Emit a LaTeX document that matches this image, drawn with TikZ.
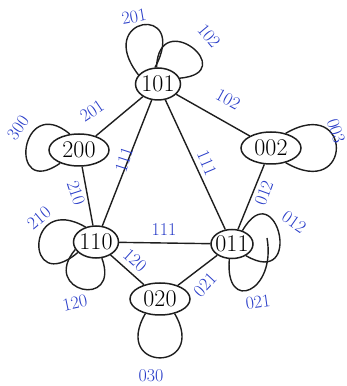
\documentclass[tikz,border=0pt]{standalone}
\usepackage{tikz}
\usetikzlibrary{shapes.geometric}
\definecolor{inkblue}{RGB}{40,60,200}
\definecolor{inkblack}{RGB}{30,30,30}
\tikzset{
  state/.style={ellipse, draw=inkblack, line width=1.5pt, inner xsep=-3pt, inner ysep=0pt,
    minimum width=45pt, minimum height=32pt, font=\fontsize{24}{28}\selectfont},
  widestate/.style={state, minimum width=60pt},
  lbl/.style={text=inkblue, font=\fontsize{18}{20}\selectfont, inner sep=0pt},
  link/.style={draw=inkblack, line width=1.4pt}
}

\begin{document}
\begin{tikzpicture}[x=1pt,y=1pt]
\useasboundingbox (0,0) rectangle (347,386);

\node[state] (S101) at (158,302) {101};
\node[widestate] (S200) at (79,236) {200};
\node[widestate] (S002) at (271,238) {002};
\node[state] (S110) at (96,144) {110};
\node[state, minimum width=42pt, minimum height=29pt] (S011) at (232,142) {011};
\node[widestate] (S020) at (160,87) {020};
\coordinate (h011) at (267,148);

% edges
\path[link] (S200) edge [] (S101);
\path[link] (S101) edge [] (S002);
\path[link] (S110) edge [] (S101);
\path[link] (S101) edge [] (S011);
\path[link] (S200) edge [] (S110);
\path[link] (S011) edge [] (S002);
\path[link] (S110) edge [] (S011);
\path[link] (S110) edge [] (S020);
\path[link] (S020) edge [] (S011);

% loops
\path[link] (S101.155) edge [out=128, in=62, min distance=74pt] (S101.100);
\path[link] (S101.95) edge [out=88, in=5, min distance=62pt] (S101.15);
\path[link] (S200.120) edge [out=140, in=215, min distance=65pt] (S200.215);
\path[link] (S002.45) edge [out=30, in=-30, min distance=78pt] (S002.-45);
\path[link] (S110.125) edge [out=150, in=220, min distance=70pt] (S110.210);
\path[link] (S110.200) edge [out=230, in=-70, min distance=55pt] (S110.-70);
\path[link] (S011.52) edge [out=60, in=-30, min distance=68pt] (S011.-40);
\path[link] (S011.-100) edge [out=-95, in=-80, min distance=55pt] (h011);
\path[link] (S020.-135) edge [out=-120, in=-60, min distance=68pt] (S020.-45);

% edge labels
\node[lbl, rotate=34] (e201) at (92,275) {201};
\node[lbl, rotate=-29] (e102) at (228,287) {102};
\node[lbl, rotate=72] (e111a) at (124,226) {111};
\node[lbl, rotate=-67] (e111b) at (207,223) {111};
\node[lbl, rotate=-72] (e210) at (76,193) {210};
\node[lbl, rotate=70] (e012) at (264,193) {012};
\node[lbl] (e111c) at (164,156) {111};
\node[lbl, rotate=-42] (e120) at (135,126) {120};
\node[lbl, rotate=47] (e021) at (205,101) {021};

% loop labels
\node[lbl, rotate=10] (l201) at (134,369) {201};
\node[lbl, rotate=-50] (l102) at (209,350) {102};
\node[lbl, rotate=55] (l300) at (18,258) {300};
\node[lbl, rotate=-72] (l003) at (336,255) {003};
\node[lbl, rotate=40] (l210) at (39,168) {210};
\node[lbl, rotate=12] (l120) at (75,83) {120};
\node[lbl, rotate=-35] (l012) at (294,164) {012};
\node[lbl, rotate=8] (l021) at (258,84) {021};
\node[lbl] (l030) at (151,10) {030};

\end{tikzpicture}
\end{document}
